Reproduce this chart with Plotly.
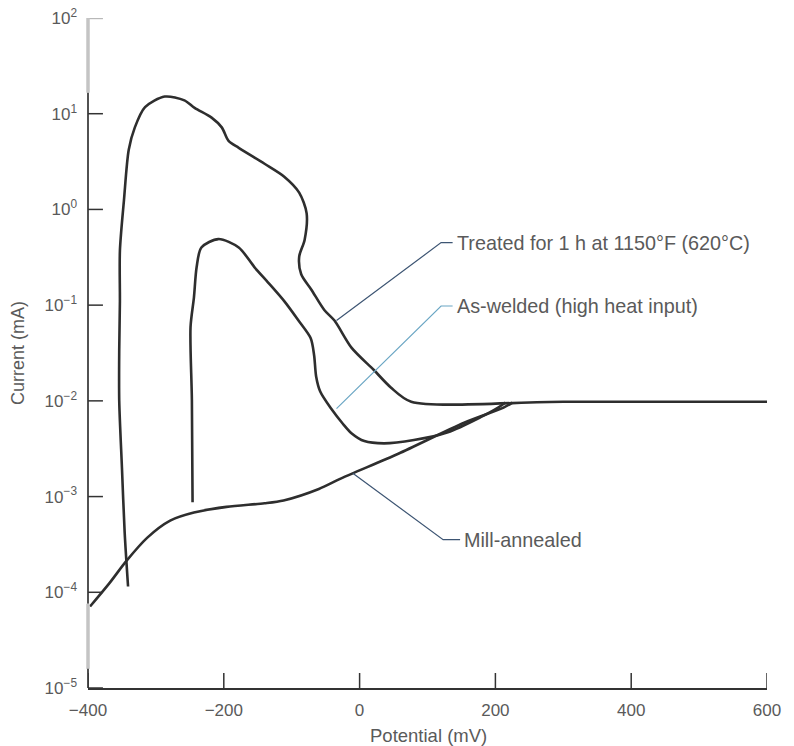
import numpy as np
import plotly.graph_objects as go

# ---- data (potential in mV, current in mA) ----
treated_x = [-341, -346, -350, -354, -354, -353, -353, -347, -340, -331, -316, -287, -258, -243,
             -218, -203, -193, -178, -140, -111, -89, -78, -81, -89, -86, -71, -52, -37, -12, 21,
             46, 76, 300, 600]
treated_y = [1.15e-4, 4.2e-4, 2.0e-3, 1.0e-2, 3.4e-2, 0.11, 0.37, 1.26, 4.2, 7.2, 11.7, 15.1, 13.8, 11.5,
             9.1, 7.2, 5.2, 4.4, 3.0, 2.2, 1.5, 0.91, 0.48, 0.32, 0.21, 0.145, 0.089, 0.069, 0.036, 0.021,
             0.0138, 0.0098, 0.0098, 0.0098]

welded_x = [-246, -247, -249, -244, -240, -233, -208, -178, -155, -134, -111, -90, -72, -67, -64, -58,
            -42, -25, -12, 7, 36, 80, 130, 179, 204, 215]
welded_y = [8.7e-4, 0.0102, 0.059, 0.12, 0.25, 0.40, 0.49, 0.40, 0.25, 0.17, 0.11, 0.069, 0.045, 0.03,
            0.018, 0.0125, 0.0083, 0.0058, 0.0046, 0.0038, 0.0036, 0.0039, 0.0047, 0.0068, 0.0085, 0.0096]

mill_x = [-397, -369, -344, -313, -279, -244, -196, -140, -112, -60, -27, 57, 154, 212, 225]
mill_y = [7.1e-5, 1.23e-4, 2.1e-4, 3.7e-4, 5.6e-4, 6.8e-4, 7.8e-4, 8.5e-4, 9.1e-4, 1.2e-3, 1.55e-3,
          2.8e-3, 5.9e-3, 8.5e-3, 9.6e-3]

labels = ["Treated for 1 h at 1150°F (620°C)", "As-welded (high heat input)", "Mill-annealed"]
leader_x = [[-34, 120, 137], [-34, 120, 137], [-10, 123, 148]]
leader_y = [[0.069, 0.45, 0.45], [0.0083, 0.098, 0.098], [0.00175, 3.55e-4, 3.55e-4]]
leader_colors = ["#3d5573", "#6aa6c4", "#3d5573"]

x_ticks = [-400, -200, 0, 200, 400, 600]
y_ticks = [1e-5, 1e-4, 1e-3, 1e-2, 1e-1, 1e0, 1e1, 1e2]
y_ticktext = ["10<sup>−5</sup>", "10<sup>−4</sup>", "10<sup>−3</sup>", "10<sup>−2</sup>",
              "10<sup>−1</sup>", "10<sup>0</sup>", "10<sup>1</sup>", "10<sup>2</sup>"]
x_title = "Potential (mV)"
y_title = "Current (mA)"

curve_color = "#2e2e2e"
text_color = "#5a5a5a"
axis_color = "#333333"
font_family = "Liberation Sans, Arial, sans-serif"

fig = go.Figure()
for xs, ys in [(treated_x, treated_y), (welded_x, welded_y), (mill_x, mill_y)]:
    fig.add_trace(go.Scatter(x=xs, y=ys, mode="lines",
                             line=dict(color=curve_color, width=2.6, shape="spline", smoothing=0.8),
                             hoverinfo="skip", showlegend=False))

for lx, ly, c, lab in zip(leader_x, leader_y, leader_colors, labels):
    fig.add_trace(go.Scatter(x=lx, y=ly, mode="lines", line=dict(color=c, width=1.2),
                             hoverinfo="skip", showlegend=False))
    fig.add_annotation(x=lx[-1] + 3, y=np.log10(ly[-1]), text=lab, showarrow=False,
                       xanchor="left", yanchor="middle",
                       font=dict(size=19.8, color=text_color, family=font_family))

# inward tick marks drawn as thin traces (y ticks: 15 px to the right; x ticks: 15 px up)
x_lo, x_hi = -400, 600
tick_dx = 22            # ~15 px in mV
tick_dy = 10 ** 0.157   # ~15 px factor on the log axis
ytx, yty = [], []
for v in y_ticks[:-1]:
    ytx += [x_lo, x_lo + tick_dx, None]
    yty += [v, v, None]
fig.add_trace(go.Scatter(x=ytx, y=yty, mode="lines", line=dict(color=axis_color, width=1.5),
                         hoverinfo="skip", showlegend=False, cliponaxis=False))
fig.add_trace(go.Scatter(x=[x_lo, x_lo + tick_dx], y=[y_ticks[-1], y_ticks[-1]], mode="lines",
                         line=dict(color="#b8b8b8", width=2.4), hoverinfo="skip", showlegend=False,
                         cliponaxis=False))
xtx, xty = [], []
for v in x_ticks:
    xtx += [v, v, None]
    xty += [y_ticks[0], y_ticks[0] * tick_dy, None]
fig.add_trace(go.Scatter(x=xtx, y=xty, mode="lines", line=dict(color=axis_color, width=1.5),
                         hoverinfo="skip", showlegend=False, cliponaxis=False))

# axis titles as annotations for exact placement
fig.add_annotation(text=x_title, xref="paper", yref="paper", x=0.502, y=0, yshift=-47,
                   xanchor="center", yanchor="middle", showarrow=False,
                   font=dict(size=18.5, color=text_color, family=font_family))
fig.add_annotation(text=y_title, xref="paper", yref="paper", x=0, y=0.5, xshift=-70,
                   xanchor="center", yanchor="middle", textangle=-90, showarrow=False,
                   font=dict(size=18, color=text_color, family=font_family))

# y axis line drawn in pieces (gray scanned parts); exponents of the current
axis_parts = [(2.0, 1.22, "#c4c4c4", 3.5), (1.22, -4.12, axis_color, 1.7),
              (-4.12, -4.8, "#c4c4c4", 3.5), (-4.8, -5.0, axis_color, 1.7)]
for e0, e1, c, w in axis_parts:
    fig.add_shape(type="line", xref="paper", yref="y", x0=0, x1=0, y0=10 ** e0, y1=10 ** e1,
                  line=dict(color=c, width=w), layer="above")

fig.update_layout(
    width=794, height=746,
    margin=dict(l=88, r=27, t=18, b=58, autoexpand=False),
    paper_bgcolor="white", plot_bgcolor="white",
    font=dict(family=font_family, color=text_color, size=17),
)
fig.update_xaxes(range=[x_lo, x_hi], tickvals=x_ticks, automargin=False,
                 ticktext=[str(v).replace("-", "−") for v in x_ticks],
                 showgrid=False, zeroline=False, showline=True, linecolor=axis_color, linewidth=1.7,
                 ticks="", ticklabelstandoff=6,
                 tickfont=dict(size=17, color=text_color))
fig.update_yaxes(type="log", range=[-5, 2], tickvals=y_ticks, ticktext=y_ticktext, automargin=False,
                 showgrid=False, zeroline=False, showline=False, ticks="",
                 ticklabelstandoff=10,
                 tickfont=dict(size=17, color=text_color))

fig.write_html("out.html")
